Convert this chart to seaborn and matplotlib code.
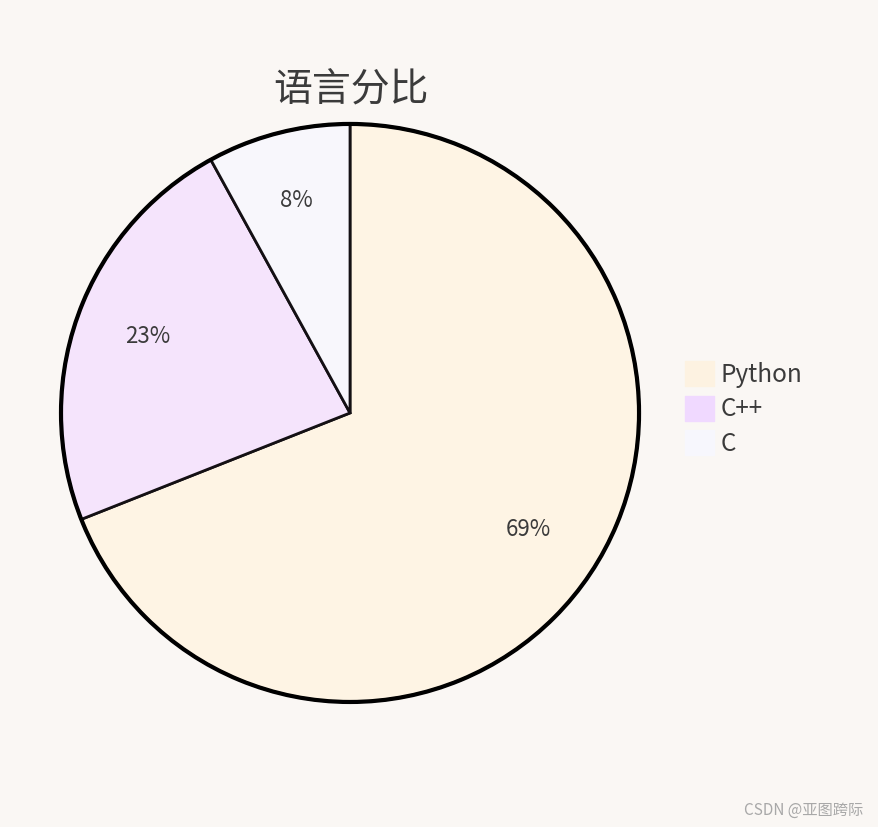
import matplotlib.pyplot as plt
import matplotlib.transforms as mtransforms
import seaborn as sns

"""
pie chart of language share
"""

LANGS = ["Python", "C++", "C"]
SHARES = [69, 23, 8]
COLORS = ["#fef4e4", "#f5e4fc", "#f8f7fc"]
LEGEND_COLORS = ["#fdf2e1", "#f0d9ff", "#f7f7fd"]
TITLE = "语言分比"
BG = "#faf7f4"
INK = "#3b3b3b"


def main():
    sns.set_theme(style="white", rc={"figure.facecolor": BG, "axes.facecolor": BG})
    plt.rcParams["font.family"] = ["Noto Sans CJK SC", "DejaVu Sans"]

    fig = plt.figure(figsize=(8.79, 8.27), dpi=100)
    ax = fig.add_axes([-0.0128, 0.0638, 0.822, 0.8737])

    wedges, _, autotexts = ax.pie(
        SHARES,
        colors=COLORS,
        startangle=90,
        counterclock=False,
        autopct="%.0f%%",
        pctdistance=0.745,
        wedgeprops={"edgecolor": "#141014", "linewidth": 2},
        textprops={"color": INK, "fontsize": 16},
    )
    # nudge the percent labels up a little
    shift = mtransforms.ScaledTranslation(0, 4 / 100, fig.dpi_scale_trans)
    for t in autotexts:
        t.set_transform(t.get_transform() + shift)
    for w in wedges:
        w.set_clip_on(False)
    # outer rim is drawn a little heavier
    ax.pie([1], radius=1, colors=["none"], startangle=90,
           wedgeprops={"edgecolor": "black", "linewidth": 3, "fill": False})
    ax.set_xlim(-1.25, 1.25)
    ax.set_ylim(-1.25, 1.25)
    ax.set_aspect("equal")

    fig.text(0.399, 1 - 90 / 827, TITLE, ha="center", va="center",
             fontsize=28, color=INK)

    handles = [plt.Rectangle((0, 0), 1, 1, color=c) for c in LEGEND_COLORS]
    fig.legend(handles, LANGS, loc="center left",
               bbox_to_anchor=(673 / 879, 1 - 409 / 827),
               frameon=False, fontsize=17.5, labelcolor=INK,
               handlelength=1.2, handleheight=1.2,
               handletextpad=0.25, labelspacing=0.33, borderpad=0)

    fig.text(0.982, 0.01, "CSDN @亚图跨际", ha="right", va="bottom",
             fontsize=11, color="#a8a8a8")

    fig.savefig("out.png", dpi=100, facecolor=BG)


if __name__ == '__main__':
    main()
